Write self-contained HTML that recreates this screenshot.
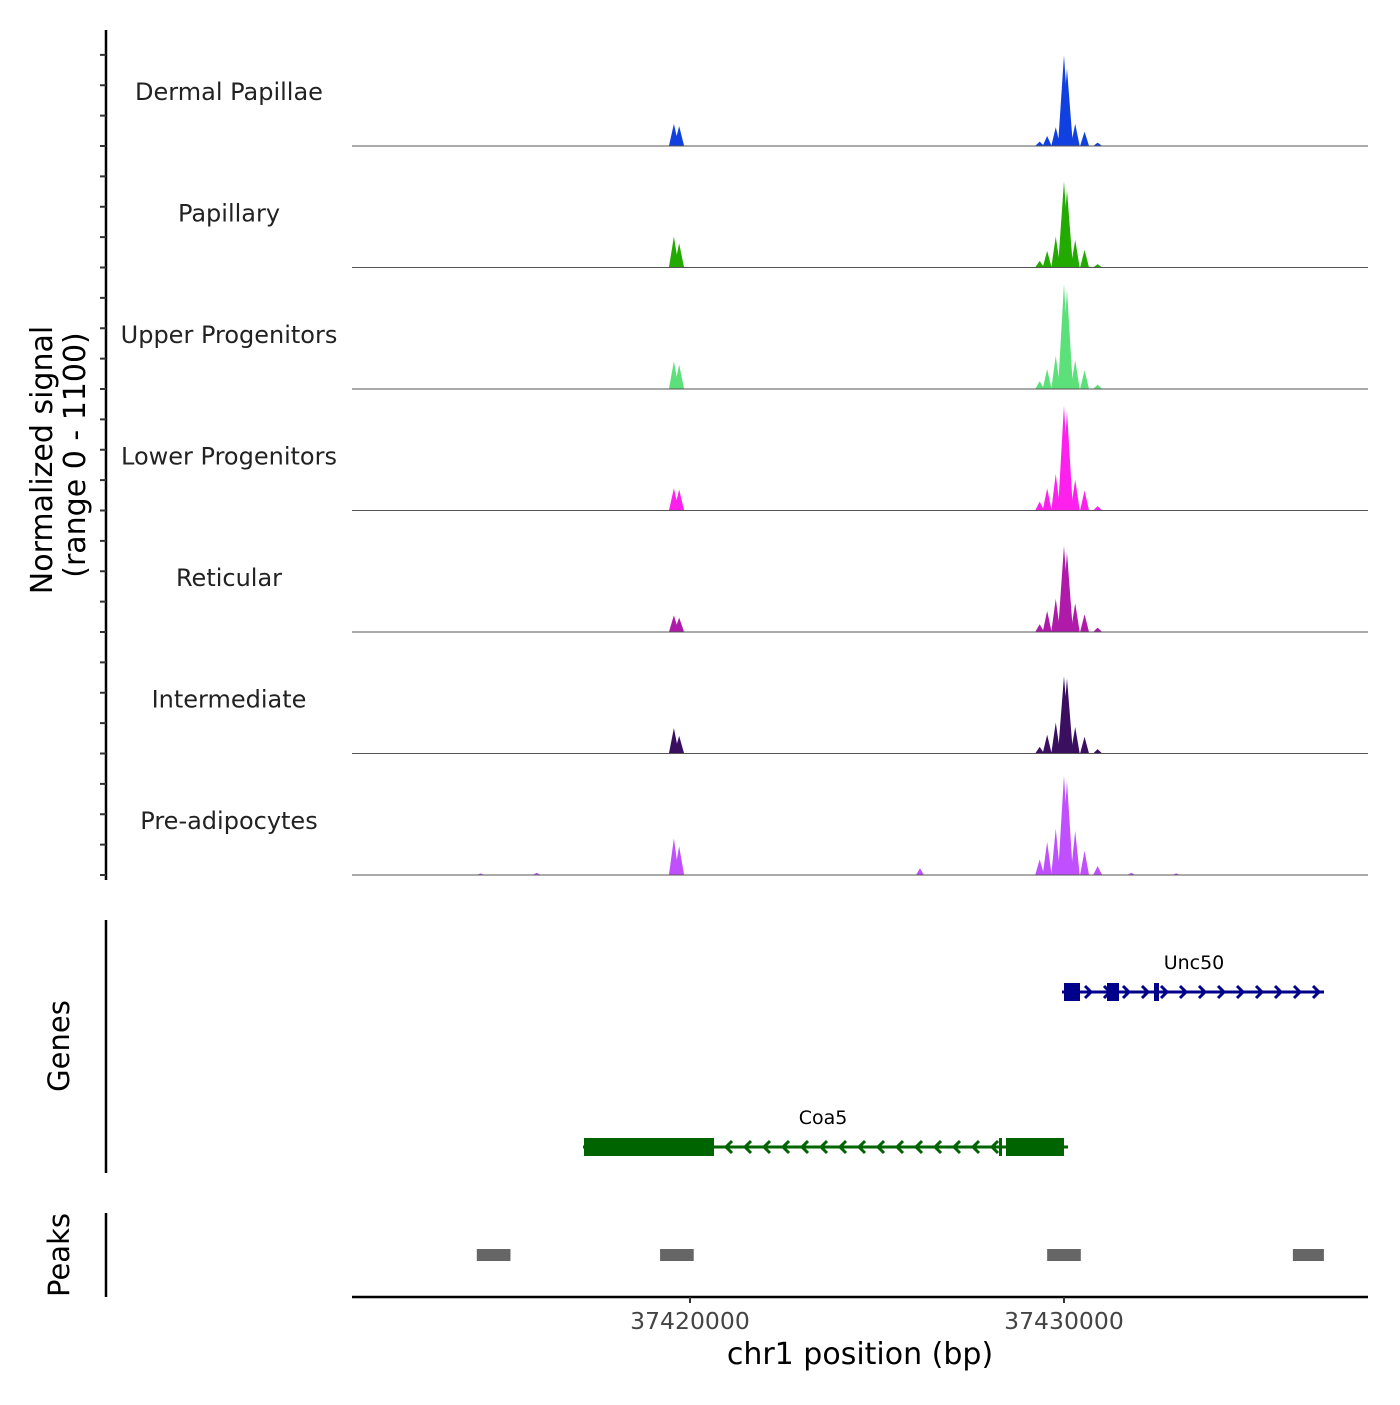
<!DOCTYPE html>
<html><head><meta charset="utf-8"><style>
body{margin:0;background:#fff}
svg text{font-family:"DejaVu Sans","Liberation Sans",sans-serif}
</style></head><body>
<svg id="chart" width="1400" height="1400" viewBox="0 0 1400 1400" xmlns="http://www.w3.org/2000/svg">
<text transform="translate(52,460) rotate(-90)" text-anchor="middle" font-size="30" fill="#000">Normalized signal</text>
<text transform="translate(85,455) rotate(-90)" text-anchor="middle" font-size="30" fill="#000">(range 0 - 1100)</text>
<text transform="translate(69,1046) rotate(-90)" text-anchor="middle" font-size="29" fill="#000">Genes</text>
<text transform="translate(69,1255) rotate(-90)" text-anchor="middle" font-size="29" fill="#000">Peaks</text>
<text x="860" y="1364" text-anchor="middle" font-size="30" fill="#000">chr1 position (bp)</text>
</svg>
<script>
// ---- data ----
const tracks = ["Dermal Papillae","Papillary","Upper Progenitors","Lower Progenitors","Reticular","Intermediate","Pre-adipocytes"];
const colors = ["#1040e0","#22aa00","#5ce07a","#ff20ee","#b01aa8","#3a0f60","#c050ff"];
const spikePos = [37429350,37429550,37429780,37430000,37430080,37430300,37430550,37430900,37419570,37419710];
const spikeDP  = [40,90,170,820,700,200,130,30,200,180];
const spikePap = [60,150,280,780,700,250,160,30,280,220];
const spikeUp  = [70,180,300,950,900,260,170,40,250,220];
const spikeLow = [80,200,330,950,900,280,180,40,200,190];
const spikeRet = [70,190,300,780,720,260,160,40,150,130];
const spikeInt = [60,170,280,700,680,240,150,40,230,160];
const spikePre = [140,300,420,900,850,400,220,80,330,260];
const extraPre = [[37426150,60],[37415900,20],[37414400,15],[37431800,20],[37433000,15]];
const spikeSets = [spikeDP,spikePap,spikeUp,spikeLow,spikeRet,spikeInt,spikePre];
const xTicks = [37420000,37430000];
const xTickLabels = ["37420000","37430000"];
const peakStarts = [37414300,37419200,37429550,37436120];
const peakEnds   = [37415200,37420100,37430450,37436950];
// ---- scales ----
const X0=37410963, pxPerBp=374/10000, L=352, R=1368;
const x = bp => L + (bp - X0)*pxPerBp;
const base0=146, trackH=121.5, yMax=1100;
const y = (i,v) => base0 + i*trackH - v/yMax*trackH;
const svg=document.getElementById('chart'), NS="http://www.w3.org/2000/svg";
function mk(t,a,p){const e=document.createElementNS(NS,t);for(const k in a)e.setAttribute(k,a[k]);(p||svg).appendChild(e);return e;}
const ax=mk('line',{x1:106,y1:30,x2:106,y2:880,stroke:'#000','stroke-width':2.5});


for(let k=0;k<29;k++){const ty=875-k*30.375;if(ty<40)break;
 const t=mk('line',{x1:100,y1:ty,x2:106,y2:ty,stroke:'#333','stroke-width':2});
 
 }
tracks.forEach((name,i)=>{
 const b=y(i,0);
 const g=mk('g',{});
 
 
 const lbl=mk('text',{x:229,y:b-46,'text-anchor':'middle','font-size':24,fill:'#222'},g);lbl.textContent=name;
 
 
 const vals=spikeSets[i];
 spikePos.forEach((p,j)=>{
  const w=(j==3||j==4)?6:(j>=8?5:4.5);
  const s=mk('polygon',{points:`${x(p)-w},${b} ${x(p)},${y(i,vals[j])} ${x(p)+w},${b}`,fill:colors[i]},g);
  
  
 });
 if(i==6)extraPre.forEach(e=>{const s=mk('polygon',{points:`${x(e[0])-4},${b} ${x(e[0])},${y(i,e[1])} ${x(e[0])+4},${b}`,fill:colors[i]},g);
  
  });
 const bl=mk('line',{x1:L,y1:b,x2:R,y2:b,stroke:'#555','stroke-width':1},g);
 
 
});
const ga=mk('line',{x1:106,y1:920,x2:106,y2:1173,stroke:'#000','stroke-width':2.5});


function gene(name,gy,x1,x2,exons,dir,col,lx){
 const g=mk('g',{});
 
 
 mk('line',{x1:x1,y1:gy,x2:x2,y2:gy,stroke:col,'stroke-width':3},g);
 for(let ax2=x1+10;ax2<x2-2;ax2+=19){const d=dir*6;
  mk('polyline',{points:`${ax2-d},${gy-6} ${ax2},${gy} ${ax2-d},${gy+6}`,fill:'none',stroke:col,'stroke-width':3},g);}
 exons.forEach(e=>mk('rect',{x:e[0],y:gy-e[2]/2,width:e[1]-e[0],height:e[2],fill:col},g));
 const t=mk('text',{x:lx,y:gy-23,'text-anchor':'middle','font-size':19,fill:'#000'},g);t.textContent=name;
}
gene('Unc50',992,1062,1324,[[1064,1080,18],[1107,1119,18],[1154,1159,18]],1,'#00008b',1194);
gene('Coa5',1147,583,1068,[[584,714,18],[1006,1064,18],[999,1002,18]],-1,'#006400',823);
const pa=mk('line',{x1:106,y1:1213,x2:106,y2:1297,stroke:'#000','stroke-width':2.5});


peakStarts.forEach((s,i)=>{const r=mk('rect',{x:x(s),y:1249,width:x(peakEnds[i])-x(s),height:12,fill:'#666'});
 
 });
const xa=mk('line',{x1:L,y1:1297,x2:R,y2:1297,stroke:'#000','stroke-width':2.5});


xTicks.forEach((t,i)=>{
 const tk=mk('line',{x1:x(t),y1:1297,x2:x(t),y2:1303,stroke:'#333','stroke-width':2});
 
 
 const tl=mk('text',{x:x(t),y:1329,'text-anchor':'middle','font-size':23.5,fill:'#444'});tl.textContent=xTickLabels[i];
 
 
});
</script>
</body></html>
